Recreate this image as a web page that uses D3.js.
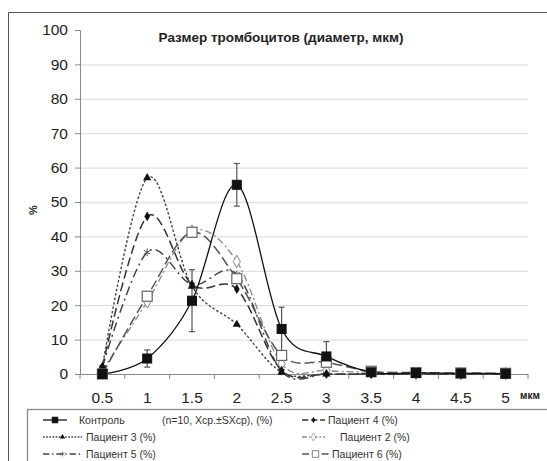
<!DOCTYPE html>
<html>
<head>
<meta charset="utf-8">
<script src="https://cdn.jsdelivr.net/npm/d3@7"></script>
<style>
body { margin: 0; background: #fff; }
svg { font-family: "Liberation Sans", Arial, sans-serif; }
</style>
</head>
<body>
<div id="chart"></div>
<script>
// categories (diameter, мкм)
const sizes = ["0.5", "1", "1.5", "2", "2.5", "3", "3.5", "4", "4.5", "5"];
const yTicks = [0, 10, 20, 30, 40, 50, 60, 70, 80, 90, 100];

const control    = [0, 4.5, 21.3, 55, 13.1, 5.1, 0.5, 0.3, 0.2, 0.1];
const controlErr = [0, 2.5, 9, 6.2, 6.3, 4.3, 0, 0, 0, 0];
const patient3   = [2.2, 57, 25.5, 14.4, 0.5, 0, 0, 0, 0, 0];
const patient4   = [2, 45.8, 26, 24.7, 1, 0, 0, 0, 0, 0];
const patient5   = [2, 35.4, 26, 29, 0.8, 0, 0, 0, 0, 0];
const patient2   = [1, 21, 41.5, 32.7, 3, 1, 0.5, 0.2, 0.1, 0.1];
const patient6   = [0, 22.6, 41.2, 27.7, 5.4, 3.4, 0.8, 0.4, 0.3, 0.2];

const width = 547, height = 461;
const svg = d3.select("#chart").append("svg")
    .attr("width", width)
    .attr("height", height);

// outer chart frame
svg.append("path")
    .attr("d", "M8.5," + height + "V12.5H" + width)
    .attr("fill", "none")
    .attr("stroke", "#555")
    .attr("stroke-width", 1);

const plot = {left: 80, right: 528, top: 30, bottom: 374};

const x = d3.scalePoint().domain(sizes).range([plot.left, plot.right]).padding(0.5);
const xBand = d3.scaleBand().domain(sizes).range([plot.left, plot.right]);
const y = d3.scaleLinear().domain([0, 100]).range([plot.bottom, plot.top]);

// gridlines
svg.append("g")
    .selectAll("line")
    .data(yTicks.filter(d => d > 0 && d < 100))
    .enter()
    .append("line")
    .attr("x1", plot.left)
    .attr("x2", plot.right)
    .attr("y1", d => y(d) + 0.5)
    .attr("y2", d => y(d) + 0.5)
    .attr("stroke", "#e0e0e0")
    .attr("stroke-width", 1.3);

// y axis
const yAxis = d3.axisLeft(y).tickValues(yTicks).tickSize(5).tickSizeOuter(0);
const gy = svg.append("g")
    .attr("transform", "translate(" + plot.left + ",0)")
    .call(yAxis);
gy.select(".domain").attr("stroke", "#888");
gy.selectAll(".tick line").attr("stroke", "#888");
gy.selectAll(".tick text")
    .attr("x", -12)
    .style("font-size", "15.5px")
    .attr("fill", "#222");

// x axis (category style, ticks between categories)
svg.append("line")
    .attr("x1", plot.left).attr("x2", plot.right)
    .attr("y1", plot.bottom + 0.5).attr("y2", plot.bottom + 0.5)
    .attr("stroke", "#888");
svg.append("g")
    .selectAll("line")
    .data(sizes.concat(["end"]))
    .enter()
    .append("line")
    .attr("x1", d => d === "end" ? plot.right : xBand(d))
    .attr("x2", d => d === "end" ? plot.right : xBand(d))
    .attr("y1", plot.bottom)
    .attr("y2", plot.bottom + 5)
    .attr("stroke", "#888");
svg.append("g")
    .selectAll("text")
    .data(sizes)
    .enter()
    .append("text")
    .attr("x", d => x(d))
    .attr("y", 403)
    .attr("text-anchor", "middle")
    .style("font-size", "15.5px")
    .attr("fill", "#222")
    .text(d => d);

svg.append("text")
    .attr("x", 520).attr("y", 399)
    .style("font-size", "10px")
    .style("font-weight", "bold")
    .attr("fill", "#222")
    .text("мкм");

svg.append("text")
    .attr("transform", "translate(37,210) rotate(-90)")
    .attr("text-anchor", "middle")
    .style("font-size", "11px")
    .style("font-weight", "bold")
    .attr("fill", "#222")
    .text("%");

svg.append("text")
    .attr("x", 281).attr("y", 42)
    .attr("text-anchor", "middle")
    .style("font-size", "13.5px")
    .style("font-weight", "bold")
    .attr("fill", "#222")
    .text("Размер тромбоцитов (диаметр, мкм)");

// series
const series = [
    {name: "Пациент 2 (%)", values: patient2, color: "#8a8a8a", dash: "7,3,2,3", width: 1.3, marker: "diamondOpen"},
    {name: "Пациент 5 (%)", values: patient5, color: "#444", dash: "9,4,2,4", width: 1.5, marker: "star"},
    {name: "Пациент 4 (%)", values: patient4, color: "#333", dash: "9,4", width: 1.5, marker: "dot"},
    {name: "Пациент 3 (%)", values: patient3, color: "#444", dash: "2.5,2", width: 1.4, marker: "triangle"},
    {name: "Пациент 6 (%)", values: patient6, color: "#555", dash: "10,4", width: 1.5, marker: "squareOpen"},
    {name: "Контроль", values: control, color: "#111", dash: null, width: 1.3, marker: "square"}
];

const line = d3.line()
    .x((d, i) => x(sizes[i]))
    .y(d => y(d))
    .curve(d3.curveCardinal.tension(0));

const drawMarker = function (g, type) {
    if (type === "square") {
        g.append("rect").attr("x", -4.5).attr("y", -4.5).attr("width", 9).attr("height", 9)
            .attr("fill", "#111").attr("stroke", "#111");
    } else if (type === "squareOpen") {
        g.append("rect").attr("x", -5).attr("y", -5).attr("width", 10).attr("height", 10)
            .attr("fill", "#fff").attr("stroke", "#666").attr("stroke-width", 1.2);
    } else if (type === "triangle") {
        g.append("path").attr("d", d3.symbol(d3.symbolTriangle, 30)()).attr("fill", "#111");
    } else if (type === "dot") {
        g.append("path").attr("d", d3.symbol(d3.symbolDiamond, 28)()).attr("fill", "#111");
    } else if (type === "diamondOpen") {
        g.append("path").attr("d", d3.symbol(d3.symbolDiamond, 45)()).attr("fill", "#fff")
            .attr("stroke", "#888").attr("stroke-width", 1);
    } else if (type === "star") {
        g.append("path").attr("d", d3.symbol(d3.symbolAsterisk, 40)()).attr("fill", "none")
            .attr("stroke", "#555").attr("stroke-width", 1);
    }
};

series.forEach(function (s) {
    svg.append("path")
        .datum(s.values)
        .attr("fill", "none")
        .attr("stroke", s.color)
        .attr("stroke-width", s.width)
        .attr("stroke-dasharray", s.dash)
        .attr("d", line);
});

// error bars for control
const eb = svg.append("g");
control.forEach(function (v, i) {
    const e = controlErr[i];
    if (!e) return;
    const cx = x(sizes[i]);
    eb.append("line").attr("x1", cx).attr("x2", cx)
        .attr("y1", y(v + e)).attr("y2", y(Math.max(0, v - e)))
        .attr("stroke", "#555").attr("stroke-width", 1.2);
    [v + e, Math.max(0, v - e)].forEach(function (t) {
        eb.append("line").attr("x1", cx - 3).attr("x2", cx + 3)
            .attr("y1", y(t)).attr("y2", y(t))
            .attr("stroke", "#555").attr("stroke-width", 1.2);
    });
});

series.forEach(function (s) {
    s.values.forEach(function (v, i) {
        const g = svg.append("g").attr("transform", "translate(" + x(sizes[i]) + "," + y(v) + ")");
        drawMarker(g, s.marker);
    });
});

// legend
svg.append("rect")
    .attr("x", 27.5).attr("y", 409.5)
    .attr("width", 540).attr("height", 80)
    .attr("fill", "#fff")
    .attr("stroke", "#888")
    .attr("stroke-width", 1.3);

const legendItems = [
    {s: series[5], lx: 43, len: 24, ly: 420, tx: 79, label: "Контроль"},
    {s: series[2], lx: 302, len: 23, ly: 420, tx: 328, label: "Пациент 4 (%)"},
    {s: series[3], lx: 43, len: 39, ly: 437, tx: 86, label: "Пациент 3 (%)"},
    {s: series[0], lx: 302, len: 23, ly: 437, tx: 340, label: "Пациент 2 (%)"},
    {s: series[1], lx: 43, len: 39, ly: 454, tx: 86, label: "Пациент 5 (%)"},
    {s: series[4], lx: 302, len: 27, ly: 454, tx: 332, label: "Пациент 6 (%)"}
];

const lg = svg.append("g");
legendItems.forEach(function (it) {
    lg.append("line")
        .attr("x1", it.lx).attr("x2", it.lx + it.len)
        .attr("y1", it.ly).attr("y2", it.ly)
        .attr("stroke", it.s.color)
        .attr("stroke-width", it.s.width)
        .attr("stroke-dasharray", it.s.dash ? it.s.dash.split(",").map(d => d * 0.7).join(",") : null);
    const g = lg.append("g").attr("transform", "translate(" + (it.lx + it.len / 2) + "," + it.ly + ") scale(0.65)");
    drawMarker(g, it.s.marker);
    lg.append("text")
        .attr("x", it.tx).attr("y", it.ly + 3.5)
        .style("font-size", "10.5px")
        .attr("fill", "#333")
        .text(it.label);
});
lg.append("text")
    .attr("x", 162).attr("y", 423.5)
    .style("font-size", "10.5px")
    .attr("fill", "#333")
    .text("(n=10, Xср.±SXср), (%)");
</script>
</body>
</html>
